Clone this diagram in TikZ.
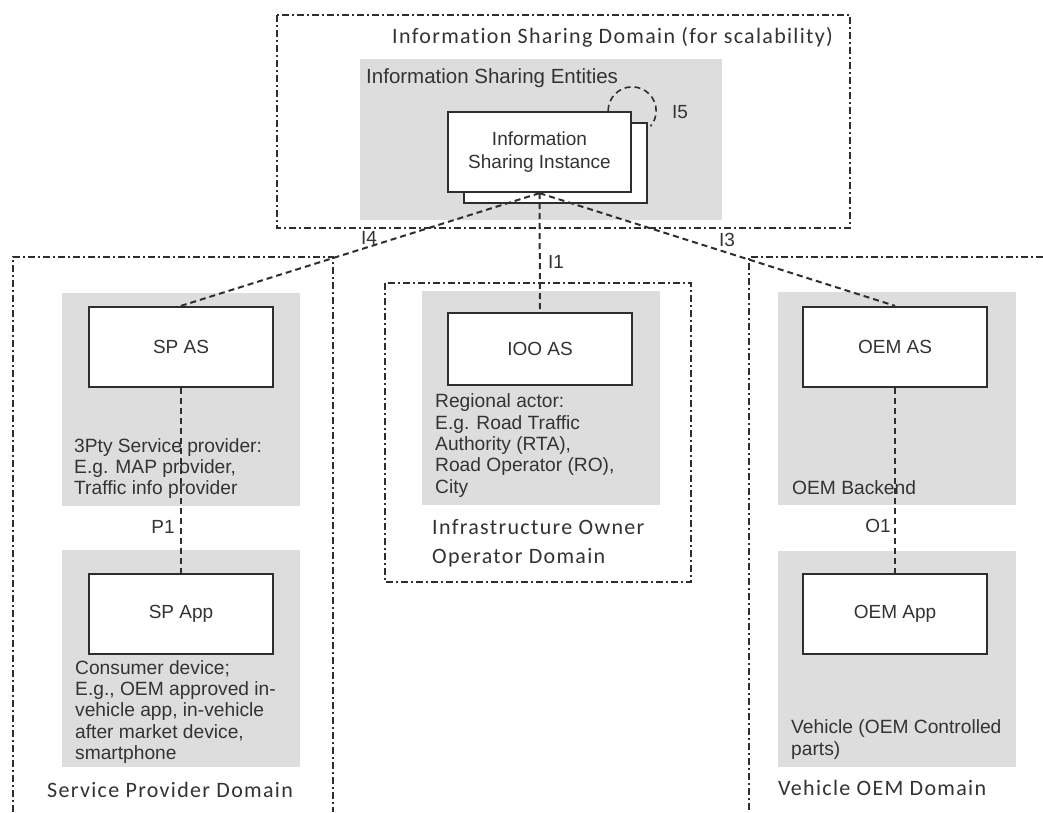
\documentclass[tikz,border=0pt]{standalone}
\usepackage{fontspec}
\setmainfont{Liberation Sans}
\newfontfamily\domfont{Carlito}[LetterSpace=6, Ligatures={NoCommon}]
\definecolor{ink}{HTML}{2E2E2E}
\definecolor{txt}{HTML}{333333}
\definecolor{panel}{HTML}{DDDDDD}

\begin{document}
\begin{tikzpicture}[x=1pt,y=-1pt,
  dombox/.style={draw=ink, line width=1.6pt, dash pattern=on 7pt off 3pt on 2pt off 3pt},
  panelbox/.style={fill=panel, draw=none},
  actor/.style={draw=ink, line width=2.3pt, fill=white, minimum width=184pt,
    minimum height=80pt, inner sep=0pt, text=txt, font=\fontsize{19}{23}\selectfont},
  conn/.style={draw=ink, line width=2pt, dash pattern=on 6pt off 4pt},
  note/.style={anchor=west, inner sep=0pt, align=left, text=txt,
    font=\fontsize{19.2}{21.3}\selectfont},
  domlabel/.style={anchor=west, inner sep=0pt, align=left, text=txt,
    font=\domfont\fontsize{22}{29}\selectfont},
  iflabel/.style={inner sep=0pt, text=txt, font=\fontsize{19}{21.5}\selectfont},
]
\useasboundingbox (0,0) rectangle (1043,812);
\fill[white] (0,0) rectangle (1043,812);

% shaded entity panels
\fill[panelbox] (360,59) rectangle (722,220);
\fill[panelbox] (62,293) rectangle (300,506);
\fill[panelbox] (62,550) rectangle (300,767);
\fill[panelbox] (422,291) rectangle (660,505);
\fill[panelbox] (778,292) rectangle (1016,505);
\fill[panelbox] (778,551) rectangle (1016,767);

% domain borders
\draw[dombox] (277,15) rectangle (850,228);
\draw[dombox] (13,812) -- (13,257) -- (333,257) -- (333,812);
\draw[dombox] (1043,257) -- (749,257) -- (749,812);
\draw[dombox] (385,283) rectangle (691,582);

% actors
\node[actor, minimum width=183pt] (back) at (555.5,163) {};
\node[actor, minimum width=183pt, align=center] (front) at (539.5,152)
  {Information\\Sharing Instance};
\node[actor] (spas) at (181,347) {SP AS};
\node[actor] (spapp) at (181,614) {SP App};
\node[actor, minimum height=72pt] (iooas) at (540,349) {IOO AS};
\node[actor] (oemas) at (895,347) {OEM AS};
\node[actor] (oemapp) at (895,614) {OEM App};

% interfaces
\draw[conn] (front.south) -- (spas.north);
\draw[conn] (front.south) -- (iooas.north);
\draw[conn] (front.south) -- (oemas.north);
\draw[conn] (spas.south) -- (spapp.north);
\draw[conn] (oemas.south) -- (oemapp.north);
\draw[conn, line width=1.6pt] ([xshift=-24pt]front.north east)
  arc[start angle=180, end angle=400, radius=24];

\node[iflabel] (li4) at (369,238) {I4};
\node[iflabel] (li3) at (727,240) {I3};
\node[iflabel] (li1) at (556,262) {I1};
\node[iflabel] (li5) at (680,112) {I5};
\node[iflabel] (lp1) at (163,527) {P1};
\node[iflabel] (lo1) at (878,526) {O1};

% panel notes
\node[note, font=\fontsize{20.5}{23}\selectfont] (nent) at (366,78) {Information Sharing Entities};
\node[note] (nsp) at (74,468.5) {3Pty Service provider:\\E.g. MAP provider,\\Traffic info provider};
\node[note] (napp) at (75,712) {Consumer device;\\E.g., OEM approved in-\\vehicle app, in-vehicle\\after market device,\\smartphone};
\node[note] (nioo) at (435,445.5) {Regional actor:\\E.g. Road Traffic\\Authority (RTA),\\Road Operator (RO),\\City};
\node[note] (nback) at (792,488) {OEM Backend};
\node[note] (nveh) at (791,739.5) {Vehicle (OEM Controlled\\parts)};

% domain names
\node[domlabel] (dis) at (392,37) {Information Sharing Domain (for scalability)};
\node[domlabel] (dsp) at (47,790) {Service Provider Domain};
\node[domlabel] (dioo) at (432,543.5) {Infrastructure Owner\\Operator Domain};
\node[domlabel] (doem) at (778,788) {Vehicle OEM Domain};
\end{tikzpicture}
\end{document}
